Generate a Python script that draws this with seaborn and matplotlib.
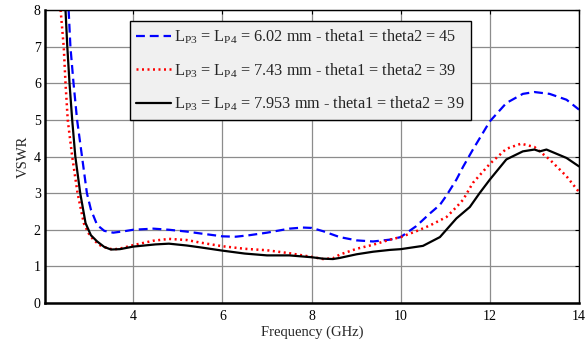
import numpy as np
import pandas as pd
import matplotlib
matplotlib.use("Agg")
import matplotlib.pyplot as plt
import seaborn as sns

# ---- data ----
freq_a = [2.55, 2.59, 2.66, 2.74, 2.85, 2.96, 3.05, 3.19, 3.35, 3.55, 3.8, 4.0, 4.45, 4.8, 5.2, 5.5,
          6.0, 6.3, 6.6, 7.0, 7.5, 7.8, 8.0, 8.26, 8.63, 9.01, 9.38, 9.76, 10.0, 10.35, 10.66, 10.88,
          11.03, 11.25, 11.4, 11.62, 12.0, 12.37, 12.74, 13.0, 13.34, 13.72, 14.0]
vswr_a = [8.0, 7.0, 6.0, 5.0, 4.0, 3.0, 2.55, 2.13, 1.97, 1.92, 1.96, 2.0, 2.03, 2.0, 1.95, 1.9,
          1.82, 1.81, 1.85, 1.92, 2.03, 2.06, 2.05, 1.96, 1.8, 1.71, 1.68, 1.73, 1.8, 2.1, 2.45, 2.68,
          2.94, 3.37, 3.72, 4.19, 4.96, 5.46, 5.71, 5.76, 5.71, 5.55, 5.28]

freq_b = [2.37, 2.44, 2.48, 2.53, 2.63, 2.75, 2.89, 3.0, 3.11, 3.25, 3.41, 3.55, 3.75, 4.0, 4.45, 4.8,
          5.2, 5.5, 6.0, 6.5, 7.0, 7.5, 8.0, 8.26, 8.48, 8.63, 9.01, 9.38, 9.76, 10.0, 10.35, 10.66,
          11.03, 11.25, 11.4, 11.62, 12.0, 12.37, 12.7, 13.0, 13.34, 13.72, 14.0]
vswr_b = [8.0, 7.0, 6.0, 5.0, 4.0, 3.0, 2.18, 1.9, 1.72, 1.58, 1.5, 1.46, 1.5, 1.58, 1.7, 1.75,
          1.72, 1.65, 1.55, 1.48, 1.44, 1.36, 1.26, 1.2, 1.22, 1.32, 1.48, 1.59, 1.73, 1.8, 1.96, 2.12,
          2.35, 2.62, 2.82, 3.28, 3.8, 4.21, 4.35, 4.26, 3.92, 3.46, 3.03]

freq_c = [2.48, 2.52, 2.57, 2.63, 2.7, 2.81, 2.93, 3.05, 3.19, 3.35, 3.5, 3.7, 4.0, 4.5, 4.8, 5.2,
          5.5, 6.0, 6.5, 7.0, 7.5, 8.0, 8.26, 8.48, 8.63, 9.01, 9.38, 9.76, 10.0, 10.5, 10.88, 11.25,
          11.55, 11.77, 12.0, 12.37, 12.74, 13.0, 13.12, 13.27, 13.72, 14.0]
vswr_c = [8.0, 7.0, 6.0, 5.0, 4.0, 3.0, 2.18, 1.85, 1.68, 1.53, 1.46, 1.47, 1.54, 1.6, 1.62, 1.57,
          1.52, 1.43, 1.35, 1.3, 1.3, 1.25, 1.21, 1.2, 1.23, 1.33, 1.4, 1.45, 1.47, 1.56, 1.8, 2.31,
          2.62, 3.0, 3.37, 3.92, 4.14, 4.19, 4.14, 4.19, 3.96, 3.73]

labels = [r"$\mathrm{L_{P3}}$ = $\mathrm{L_{P4}}$ = 6.02 mm - theta1 = theta2 = 45",
          r"$\mathrm{L_{P3}}$ = $\mathrm{L_{P4}}$ = 7.43 mm - theta1 = theta2 = 39",
          r"$\mathrm{L_{P3}}$ = $\mathrm{L_{P4}}$ = 7.953 mm - theta1 = theta2 = 39"]
xticks = [4, 6, 8, 10, 12, 14]
yticks = [0, 1, 2, 3, 4, 5, 6, 7, 8]

sns.set_style("white")
plt.rcParams["font.family"] = ["Liberation Serif", "DejaVu Serif"]
plt.rcParams["mathtext.fontset"] = "custom"
plt.rcParams["mathtext.rm"] = "Liberation Serif"
plt.rcParams["mathtext.it"] = "Liberation Serif:italic"

fig = plt.figure(figsize=(5.86, 3.43), dpi=100)
ax = fig.add_axes([45 / 586, 40 / 343, 534 / 586, 293 / 343])

dfa = pd.DataFrame({"f": freq_a, "v": vswr_a})
dfb = pd.DataFrame({"f": freq_b, "v": vswr_b})
dfc = pd.DataFrame({"f": freq_c, "v": vswr_c})

sns.lineplot(data=dfa, x="f", y="v", ax=ax, sort=False, color="#0000ff", lw=1.6,
             label=labels[0])
sns.lineplot(data=dfb, x="f", y="v", ax=ax, sort=False, color="#ff0000", lw=1.8,
             label=labels[1])
sns.lineplot(data=dfc, x="f", y="v", ax=ax, sort=False, color="black", lw=1.6,
             label=labels[2])
lines = ax.get_lines()
lines[0].set_dashes([4, 2.2])
lines[1].set_dashes([0.8, 1.4])

ax.set_xlim(2.02, 14)
ax.set_ylim(0, 8)
ax.set_xticks(xticks)
ax.set_yticks(yticks)
ax.grid(True, color="#8c8c8c", lw=0.9)
ax.set_axisbelow(True)
ax.tick_params(direction="in", top=True, right=True, labelsize=10, length=3,
               colors="black", pad=3)
ax.tick_params(axis="x", pad=5)
for s in ["left", "bottom"]:
    ax.spines[s].set_linewidth(1.8)
for s in ["top", "right"]:
    ax.spines[s].set_linewidth(1.0)
for s in ax.spines.values():
    s.set_color("black")

ax.set_xlabel("Frequency (GHz)", fontsize=10.5, labelpad=2)
ax.set_ylabel("VSWR", fontsize=10.5, labelpad=3)

leg = ax.legend(loc="upper left", bbox_to_anchor=(0.159, 0.963), fontsize=11.7,
                frameon=True, fancybox=False, framealpha=1, facecolor="#f0f0f0",
                edgecolor="black", handlelength=2.1, handletextpad=0.2,
                borderpad=0.4, labelspacing=0.95, borderaxespad=0)
leg.get_frame().set_linewidth(1.0)

fig.savefig("out.png", dpi=100)
